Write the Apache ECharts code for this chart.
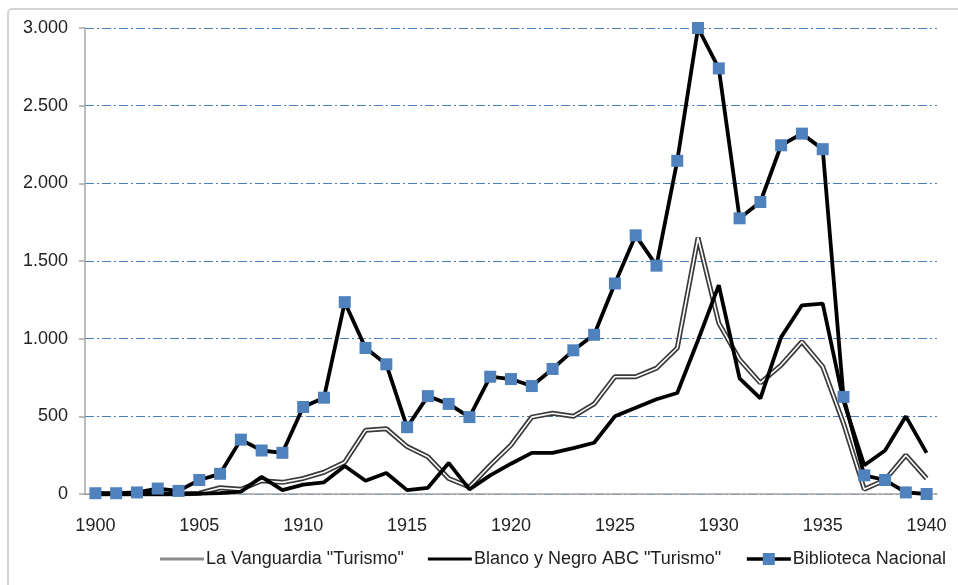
<!DOCTYPE html>
<html>
<head>
<meta charset="utf-8">
<script src="https://cdn.jsdelivr.net/npm/echarts@6/dist/echarts.min.js"></script>
<style>
html,body{margin:0;padding:0;background:#fff;}
#c{width:958px;height:585px;}
</style>
</head>
<body>
<div id="c"></div>
<script>
const years = [];
for (let y = 1900; y <= 1940; y++) years.push(String(y));

const vanguardia = [0,0,0,0,0,5,40,30,85,75,100,140,205,410,420,305,240,100,45,185,315,495,520,500,580,755,755,810,940,1650,1100,865,715,830,980,820,455,30,90,250,100];
const blancoNegro = [0,0,0,0,0,2,5,15,110,25,60,75,180,85,135,25,40,200,30,120,195,265,265,295,330,500,555,610,650,990,1345,745,615,1010,1215,1225,600,185,280,500,265];
const biblioteca = [5,5,10,35,20,90,130,350,280,265,560,620,1235,940,835,430,630,580,495,755,740,695,805,925,1025,1355,1665,1470,2145,3000,2740,1775,1880,2245,2320,2220,625,120,90,10,0];

const yTicks = [0,500,1000,1500,2000,2500,3000];

const names = ['La Vanguardia "Turismo"', 'Blanco y Negro ABC "Turismo"', 'Biblioteca Nacional'];
const FONT = '"Liberation Sans", Arial, sans-serif';
const LINE_ICON = 'path://M0,0 L44,0 L44,3 L0,3 Z';

const chart = echarts.init(document.getElementById('c'), null, {renderer:'canvas'});
chart.setOption({
  animation: false,
  backgroundColor: '#fff',
  graphic: [{
    type: 'rect', silent: true, z: -1,
    shape: {x: 8, y: 9, width: 1000, height: 1000, r: 4},
    style: {fill: 'none', stroke: '#d4d4d4', lineWidth: 2}
  }],
  grid: {left: 85, right: 21, top: 28, bottom: 91, containLabel: false},
  legend: {
    left: 155, top: 545,
    itemWidth: 44, itemHeight: 15, itemGap: 24,
    textStyle: {fontFamily: FONT, fontSize: 18, color: '#222', padding: [0,0,0,-3]},
    data: [
      {name: names[0], icon: LINE_ICON, itemStyle: {color: '#8c8c8c'}},
      {name: names[1], icon: LINE_ICON, itemStyle: {color: '#000'}},
      {name: names[2], lineStyle: {width: 3.5, color: '#000'}}
    ]
  },
  xAxis: {
    type: 'category',
    data: years,
    boundaryGap: true,
    axisLine: {lineStyle: {color: '#a6a6a6', width: 1.5}},
    axisTick: {interval: 4, length: 6, lineStyle: {color: '#a6a6a6', width: 1.5}},
    axisLabel: {interval: 4, margin: 23, fontFamily: FONT, fontSize: 18, color: '#222'},
    splitLine: {show: false}
  },
  yAxis: {
    type: 'value',
    min: 0, max: 3000, interval: 500,
    axisLine: {show: true, lineStyle: {color: '#a6a6a6', width: 1.5}},
    axisTick: {show: true, length: 6, lineStyle: {color: '#a6a6a6', width: 1.5}},
    axisLabel: {
      margin: 17, fontFamily: FONT, fontSize: 18, color: '#222',
      formatter: v => yTicks.includes(v) ? String(v).replace(/\B(?=(\d{3})+(?!\d))/g, '.') : ''
    },
    splitLine: {show: true, lineStyle: {color: '#4a7ebb', width: 1.2, type: [9,3,2,3]}}
  },
  series: [
    {
      name: names[0], type: 'line', data: vanguardia, showSymbol: false, symbol: 'none',
      lineStyle: {color: '#3a3a3a', width: 5}, itemStyle: {color: '#8c8c8c'}, z: 2
    },
    {
      name: names[0] + ' inner', type: 'line', data: vanguardia, showSymbol: false, symbol: 'none',
      lineStyle: {color: '#ffffff', width: 1.6}, itemStyle: {color: '#ffffff'}, z: 3, legendHoverLink: false
    },
    {
      name: names[1], type: 'line', data: blancoNegro, showSymbol: false, symbol: 'none',
      lineStyle: {color: '#000', width: 3.8}, itemStyle: {color: '#000'}, z: 4
    },
    {
      name: names[2], type: 'line', data: biblioteca, symbol: 'rect', symbolSize: 12, showSymbol: true,
      lineStyle: {color: '#000', width: 3.8}, itemStyle: {color: '#4f81bd'}, z: 5
    }
  ]
});
</script>
</body>
</html>
